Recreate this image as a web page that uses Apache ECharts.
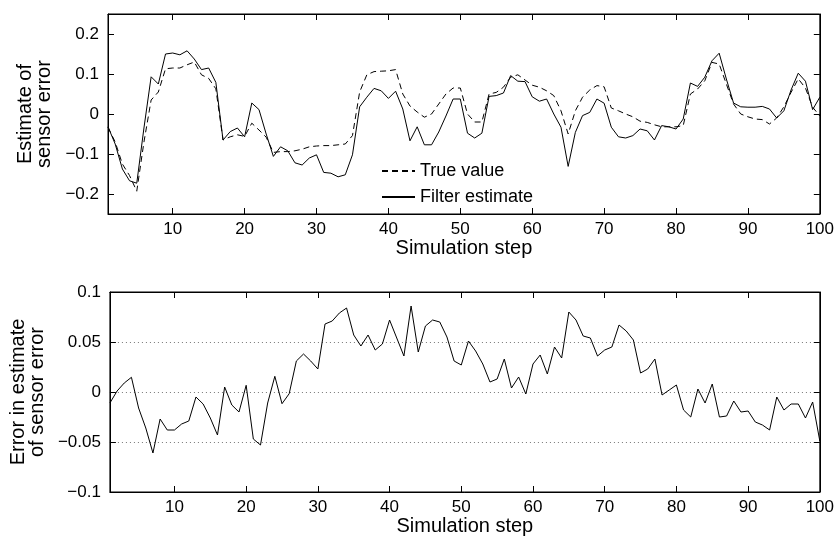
<!DOCTYPE html>
<html>
<head>
<meta charset="utf-8">
<script src="https://cdn.jsdelivr.net/npm/echarts@6/dist/echarts.min.js"></script>
<style>html,body{margin:0;padding:0;background:#fff;}#c{width:837px;height:538px;}</style>
</head>
<body>
<div id="c"></div>
<script>
var steps = Array.from({length: 100}, function (_, i) { return i + 1; });
var xTicks = [10, 20, 30, 40, 50, 60, 70, 80, 90, 100];
var topYTicks = [-0.2, -0.1, 0, 0.1, 0.2];
var trueValue = [
 -0.033,-0.07,-0.125,-0.154,-0.193,-0.07,0.035,0.055,0.113,0.115,
 0.115,0.123,0.13,0.098,0.089,0.063,-0.065,-0.057,-0.052,-0.056,
 -0.023,-0.04,-0.058,-0.096,-0.094,-0.094,-0.092,-0.088,-0.082,-0.08,
 -0.079,-0.079,-0.077,-0.075,-0.054,0.055,0.098,0.106,0.107,0.108,
 0.111,0.05,0.02,0.005,-0.008,0.0,0.025,0.05,0.065,0.065,
 0.0,-0.02,-0.02,0.05,0.054,0.067,0.092,0.098,0.085,0.072,
 0.067,0.058,0.046,0.008,-0.05,0.008,0.042,0.06,0.071,0.068,
 0.015,0.008,0.0,-0.007,-0.018,-0.021,-0.027,-0.032,-0.032,-0.032,
 -0.029,0.05,0.0625,0.083,0.129,0.125,0.075,0.025,0.0,-0.007,
 -0.0125,-0.014,-0.025,-0.01,0.018,0.054,0.088,0.065,0.017,-0.005
];
var filterEstimate = [
 -0.032,-0.075,-0.1375,-0.167,-0.173,-0.035,0.093,0.075,0.15,0.1525,
 0.148,0.158,0.1375,0.111,0.115,0.079,-0.065,-0.044,-0.035,-0.057,
 0.0275,0.011,-0.05,-0.106,-0.082,-0.092,-0.122,-0.1275,-0.11,-0.102,
 -0.146,-0.148,-0.157,-0.152,-0.102,0.018,0.042,0.064,0.058,0.039,
 0.057,0.0125,-0.067,-0.032,-0.077,-0.077,-0.045,-0.005,0.0375,0.0375,
 -0.048,-0.06,-0.048,0.044,0.046,0.0525,0.096,0.082,0.081,0.043,
 0.032,0.0375,0.0,-0.033,-0.131,-0.046,-0.004,0.004,0.0375,0.027,
 -0.033,-0.057,-0.06,-0.054,-0.0375,-0.042,-0.065,-0.029,-0.032,-0.0375,
 -0.0125,0.0775,0.069,0.092,0.133,0.152,0.0875,0.0275,0.018,0.017,
 0.017,0.019,0.0125,-0.01,0.008,0.06,0.102,0.082,0.011,0.042
];
var estimateError = [
 -0.011,0.001,0.009,0.0147,-0.016,-0.036,-0.061,-0.027,-0.038,-0.038,
 -0.032,-0.029,-0.005,-0.012,-0.026,-0.043,0.005,-0.013,-0.02,0.0067,
 -0.047,-0.053,-0.011,0.0157,-0.0117,-0.0017,0.031,0.038,0.031,0.023,
 0.068,0.071,0.079,0.084,0.057,0.046,0.057,0.042,0.048,0.072,
 0.054,0.036,0.086,0.04,0.066,0.072,0.07,0.055,0.031,0.027,
 0.051,0.041,0.028,0.01,0.013,0.033,0.004,0.015,-0.002,0.028,
 0.037,0.018,0.045,0.034,0.08,0.072,0.056,0.054,0.036,0.042,
 0.045,0.067,0.061,0.052,0.019,0.023,0.033,-0.003,0.002,0.007,
 -0.018,-0.025,0.003,-0.011,0.008,-0.025,-0.024,-0.009,-0.02,-0.019,
 -0.03,-0.033,-0.038,-0.005,-0.018,-0.012,-0.012,-0.026,-0.01,-0.049
];

function pairs(vals) { return steps.map(function (s, i) { return [s, vals[i]]; }); }
function fmt(v) {
  var s = String(Math.round(v * 1000) / 1000);
  return s.replace('-', '\u2212');
}
var FONT = 'Liberation Sans, Arial, Helvetica, sans-serif';
var black = '#000';
function lineAx() { return { show: true, onZero: false, lineStyle: { color: black, width: 1 } }; }
function tick(cv) {
  var t = { show: true, inside: true, length: 6, lineStyle: { color: black, width: 1 } };
  if (cv) t.customValues = cv;
  return t;
}

function xAxes(gi) {
  return [
    { gridIndex: gi, type: 'value', min: 1, max: 100, position: 'bottom',
      axisLine: lineAx(), axisTick: tick(xTicks),
      axisLabel: { customValues: xTicks, margin: 7, color: black, fontSize: 17, fontFamily: FONT },
      splitLine: { show: false },
      name: 'Simulation step', nameLocation: 'middle', nameGap: 23,
      nameTextStyle: { color: black, fontSize: 20, fontFamily: FONT } },
    { gridIndex: gi, type: 'value', min: 1, max: 100, position: 'top',
      axisLine: lineAx(), axisTick: tick(xTicks),
      axisLabel: { show: false }, splitLine: { show: false } }
  ];
}

var option = {
  animation: false,
  backgroundColor: '#fff',
  textStyle: { fontFamily: FONT },
  grid: [
    { left: 108, top: 14, width: 713, height: 200, show: true, borderColor: black, borderWidth: 1, backgroundColor: 'transparent' },
    { left: 108, top: 292, width: 713, height: 200, show: true, borderColor: black, borderWidth: 1, backgroundColor: 'transparent' }
  ],
  xAxis: xAxes(0).concat(xAxes(1)),
  yAxis: [
    { gridIndex: 0, type: 'value', min: -0.25, max: 0.25, position: 'left',
      axisLine: lineAx(), axisTick: tick(topYTicks),
      axisLabel: { customValues: topYTicks, margin: 9, color: black, fontSize: 17, fontFamily: FONT, formatter: fmt },
      splitLine: { show: false },
      name: 'Estimate of\nsensor error', nameLocation: 'middle', nameGap: 52, nameRotate: 90,
      nameTextStyle: { color: black, fontSize: 20, lineHeight: 19, fontFamily: FONT } },
    { gridIndex: 0, type: 'value', min: -0.25, max: 0.25, position: 'right',
      axisLine: lineAx(), axisTick: tick(topYTicks),
      axisLabel: { show: false }, splitLine: { show: false } },
    { gridIndex: 1, type: 'value', min: -0.1, max: 0.1, interval: 0.05, position: 'left',
      axisLine: lineAx(), axisTick: tick(null),
      axisLabel: { margin: 9, color: black, fontSize: 17, fontFamily: FONT, formatter: fmt },
      splitLine: { show: true, lineStyle: { type: [1, 3], color: '#777', width: 1 } },
      name: 'Error in estimate\nof sensor error', nameLocation: 'middle', nameGap: 56, nameRotate: 90,
      nameTextStyle: { color: black, fontSize: 20, lineHeight: 19, fontFamily: FONT } },
    { gridIndex: 1, type: 'value', min: -0.1, max: 0.1, interval: 0.05, position: 'right',
      axisLine: lineAx(), axisTick: tick(null),
      axisLabel: { show: false }, splitLine: { show: false } }
  ],
  legend: {
    orient: 'vertical', left: 376, top: 156, itemWidth: 33, itemHeight: 10, itemGap: 6,
    itemStyle: { opacity: 0 },
    textStyle: { color: black, fontSize: 18, lineHeight: 20, fontFamily: FONT },
    data: ['True value', 'Filter estimate']
  },
  series: [
    { name: 'True value', type: 'line', xAxisIndex: 0, yAxisIndex: 0, data: pairs(trueValue),
      symbol: 'none', lineStyle: { color: black, width: 1, type: [6, 4] }, itemStyle: { color: black } },
    { name: 'Filter estimate', type: 'line', xAxisIndex: 0, yAxisIndex: 0, data: pairs(filterEstimate),
      symbol: 'none', lineStyle: { color: black, width: 1 }, itemStyle: { color: black } },
    { name: 'Error', type: 'line', xAxisIndex: 2, yAxisIndex: 2, data: pairs(estimateError),
      symbol: 'none', lineStyle: { color: black, width: 1 }, itemStyle: { color: black } }
  ]
};
var chart = echarts.init(document.getElementById('c'), null, { renderer: 'canvas' });
chart.setOption(option);
</script>
</body>
</html>
